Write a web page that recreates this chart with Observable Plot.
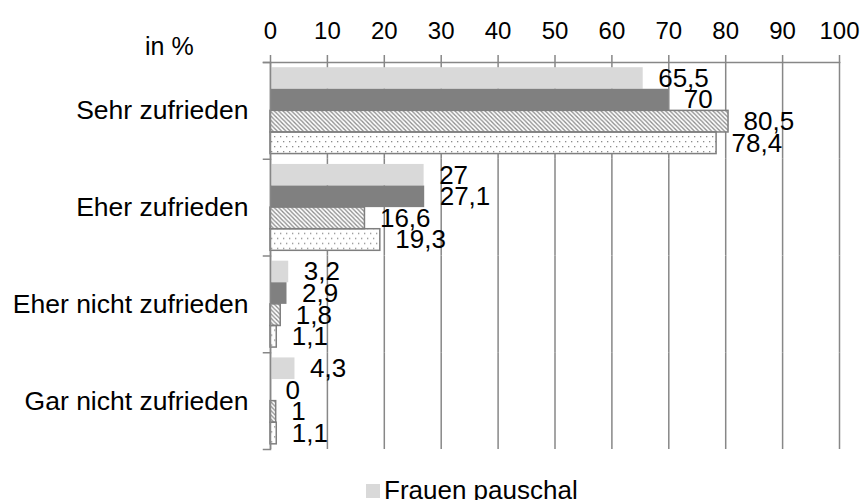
<!DOCTYPE html>
<html><head><meta charset="utf-8">
<script src="https://cdn.jsdelivr.net/npm/d3@7"></script>
<script src="https://cdn.jsdelivr.net/npm/@observablehq/plot@0.6"></script>
<style>
html,body{margin:0;padding:0;background:#fff;}
body{width:863px;height:500px;overflow:hidden;font-family:"Liberation Sans",Arial,sans-serif;}
#legend{font-size:26px;line-height:30px;padding-left:366px;white-space:nowrap;color:#000;}
#legend .sw{display:inline-block;width:14px;height:14px;background:#d9d9d9;margin-right:4px;vertical-align:1px;}
</style></head><body>
<div id="chart"></div>
<div id="legend"></div>
<script>
// ---- data ----
const categories = ["Sehr zufrieden", "Eher zufrieden", "Eher nicht zufrieden", "Gar nicht zufrieden"];
const seriesNames = ["Frauen pauschal", "Serie 2", "Serie 3", "Serie 4"];
const series1 = [65.5, 27, 3.2, 4.3];
const series2 = [70, 27.1, 2.9, 0];
const series3 = [80.5, 16.6, 1.8, 1];
const series4 = [78.4, 19.3, 1.1, 1.1];
const xTicks = [0, 10, 20, 30, 40, 50, 60, 70, 80, 90, 100];
const unitLabel = "in %";

// ---- layout / style ----
const W = 863, H = 475, ML = 270, MR = 24, MT = 62, MB = 26;
const GRID = "#878787";
const fills = ["#d9d9d9", "#808080", "url(#hatch)", "url(#dots)"];
const outlined = new Set([seriesNames[2], seriesNames[3]]);

const allSeries = [series1, series2, series3, series4];
const rows = [];
categories.forEach((c, ci) => allSeries.forEach((s, si) => rows.push({cat: c, ser: seriesNames[si], val: s[ci]})));
const fmt = v => String(v).replace(".", ",");

const chart = Plot.plot({
  width: W, height: H,
  marginLeft: ML, marginRight: MR, marginTop: MT, marginBottom: MB,
  style: {fontFamily: '"Liberation Sans", Arial, sans-serif', background: "white", color: "black", overflow: "visible"},
  x: {domain: [0, 100]},
  y: {domain: seriesNames, paddingInner: 0, paddingOuter: 0.24, round: false, axis: null},
  fy: {domain: categories, padding: 0, round: false},
  color: {domain: seriesNames, range: fills, legend: false},
  marks: [
    Plot.ruleX(xTicks, {stroke: GRID, strokeWidth: 1.5}),
    Plot.barX(rows, {fy: "cat", y: "ser", x: "val", fill: "ser"}),
    Plot.barX(rows.filter(d => outlined.has(d.ser)), {fy: "cat", y: "ser", x: "val", fill: "none", stroke: "#7f7f7f", strokeWidth: 1.5}),
    Plot.ruleX([0], {stroke: GRID, strokeWidth: 1.5}),
    Plot.frame({anchor: "top", facetAnchor: "top", insetLeft: -7, stroke: GRID, strokeWidth: 1.5}),
    Plot.frame({anchor: "top", insetLeft: -7, insetRight: W - ML - MR, stroke: GRID, strokeWidth: 1.5}),
    Plot.frame({anchor: "bottom", facetAnchor: "bottom", insetLeft: -7, insetRight: W - ML - MR, stroke: GRID, strokeWidth: 1.5}),
    Plot.axisX({anchor: "top", ticks: xTicks, tickSize: 8, tickPadding: 16, fontSize: 24, stroke: GRID, strokeWidth: 1.5, fill: "black", label: null, tickFormat: d => String(d)}),
    Plot.axisFy({anchor: "left", tickSize: 0, tickPadding: 22, fontSize: 26.5, fill: "black", label: null}),
    Plot.text(rows, {fy: "cat", y: "ser", x: "val", text: d => fmt(d.val), dx: 15, textAnchor: "start", fontSize: 26, fill: "black"})
  ]
});

// patterns
const svg = d3.select(chart);
const defs = svg.insert("defs", ":first-child");
const hatch = defs.append("pattern").attr("id", "hatch").attr("patternUnits", "userSpaceOnUse").attr("width", 4.3).attr("height", 4.3);
hatch.append("rect").attr("width", 4.3).attr("height", 4.3).attr("fill", "white");
hatch.append("path").attr("d", "M-1,-1L5.3,5.3M-1,3.3L1,5.3M3.3,-1L5.3,1").attr("stroke", "#8c8c8c").attr("stroke-width", 1.3);
const dots = defs.append("pattern").attr("id", "dots").attr("patternUnits", "userSpaceOnUse").attr("width", 6).attr("height", 10);
dots.append("rect").attr("width", 6).attr("height", 10).attr("fill", "white");
dots.append("rect").attr("x", 1).attr("y", 1).attr("width", 1.3).attr("height", 1.3).attr("fill", "#8c8c8c");
dots.append("rect").attr("x", 4).attr("y", 6).attr("width", 1.3).attr("height", 1.3).attr("fill", "#8c8c8c");

svg.append("text").attr("x", 145).attr("y", 55).attr("font-size", 25).attr("fill", "black").attr("text-anchor", "start").text(unitLabel);

document.getElementById("chart").appendChild(chart);
const lg = document.getElementById("legend");
lg.innerHTML = '<span class="sw"></span>' + seriesNames[0];
</script>
</body></html>
